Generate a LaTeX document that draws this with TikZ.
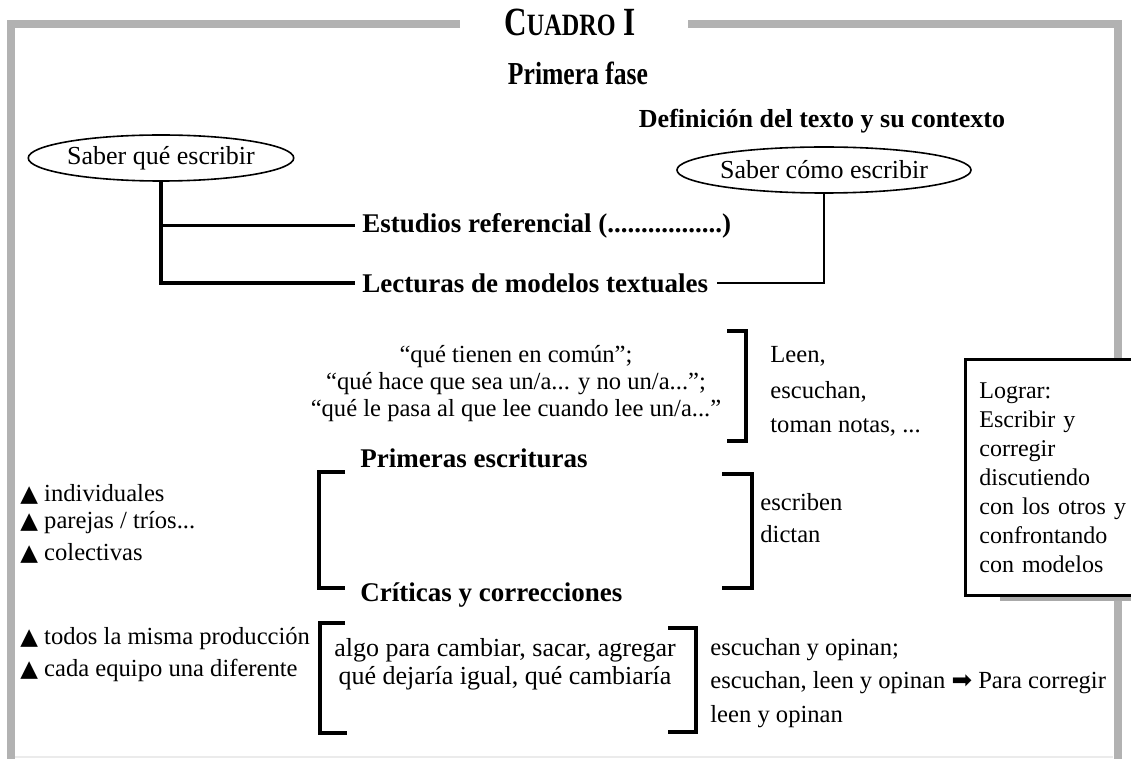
\documentclass[tikz,border=0pt]{standalone}
\usepackage{fontspec}
\setmainfont{Liberation Serif}
\newfontfamily\symfont{DejaVu Sans}
\usetikzlibrary{shapes.geometric}
\definecolor{framegray}{RGB}{178,178,178}
\definecolor{shadowgray}{RGB}{170,170,170}
\newcommand{\tri}{{\symfont\fontsize{11.5}{10}\selectfont ▲}}
\begin{document}
\begin{tikzpicture}[x=0.5pt,y=-0.5pt,
  txt/.style={inner sep=0pt, font=\fontsize{12.3}{14.5}\selectfont},
  hd/.style={inner sep=0pt, font=\fontsize{13.5}{16}\selectfont\bfseries},
  oval/.style={ellipse, draw, line width=0.8pt, minimum width=123.5pt, minimum height=23pt, inner sep=0pt, font=\fontsize{13}{15}\selectfont},
  link/.style={line width=1.8pt},
  brk/.style={line width=1.8pt},
  framing/.style={draw=framegray, line width=4pt},
  goalbox/.style={draw, fill=white, line width=1.4pt, align=left, text width=84pt, inner xsep=7pt, inner ysep=0pt, minimum height=118pt, font=\fontsize{12}{14.5}\selectfont}]
\useasboundingbox (0,0) rectangle (1131,759);
\clip (0,0) rectangle (1131,759);
% frame
\draw[framing] (460,24) -- (11,24) -- (11,762);
\draw[framing] (688,24) -- (1117.5,24) -- (1117.5,762);
\draw[draw=black!8, line width=0.8pt] (15,757) -- (1113,757);
% titles
\node[inner sep=0pt, font=\bfseries] (title) at (570,22) {\scalebox{0.78}[1]{{\fontsize{20}{22}\selectfont C}{\fontsize{15.5}{22}\selectfont UADRO}{\fontsize{20}{22}\selectfont\ I}}};
\node[inner sep=0pt] (phase) at (578,73) {\scalebox{0.8}[1]{\fontsize{16}{18}\selectfont\bfseries Primera fase}};
\node[hd, font=\fontsize{13}{16}\selectfont\bfseries] (def) at (822,121) {Definición del texto y su contexto};
% ovals
\node[oval] (e1) at (161,158) {Saber qué escribir};
\node[oval, minimum width=124pt] (e2) at (824,170) {Saber cómo escribir};
\node[hd, anchor=west] (est) at (362,226) {Estudios referencial (.................)};
\node[hd, anchor=west] (lec) at (362,283) {Lecturas de modelos textuales};
\draw[link] (e1.south) |- ([xshift=-3.5pt]lec.west);
\draw[link, line width=1.5pt] (e1.south |- est.west) -- ([xshift=-3.5pt]est.west);
\draw[link, line width=1.3pt] (e2.south) |- ([xshift=4pt]lec.east);
% quotes
\node[txt, align=center, font=\fontsize{12.3}{13.5}\selectfont] (q) at (516,384) {“qué tienen en común”;\\“qué hace que sea un/a... y no un/a...”;\\“qué le pasa al que lee cuando lee un/a...”};
\draw[brk] (727,331) -- (746,331) -- (746,441) -- (727,441);
\node[txt, anchor=west] (l1) at (770,356) {Leen,};
\node[txt, anchor=west] (l2) at (770,392) {escuchan,};
\node[txt, anchor=west] (l3) at (770,427) {toman notas, ...};
% primeras escrituras
\node[hd, anchor=west] (pe) at (360,458) {Primeras escrituras};
\draw[brk, line width=2pt] (345,472) -- (319,472) -- (319,588) -- (345,588);
\draw[brk, line width=2pt] (722,474) -- (752,474) -- (752,588) -- (722,588);
\node[txt, anchor=west] (w1) at (760,502) {escriben};
\node[txt, anchor=west] (w2) at (760,534) {dictan};
\node[txt, anchor=west] (b1) at (20,494) {\tri\ individuales};
\node[txt, anchor=west] (b2) at (20,523) {\tri\ parejas / tríos...};
\node[txt, anchor=west] (b3) at (20,553) {\tri\ colectivas};
% criticas
\node[hd, anchor=west] (cc) at (360,595) {Críticas y correcciones};
\draw[brk, line width=2pt] (345,623) -- (320,623) -- (320,733) -- (347,733);
\draw[brk, line width=2pt] (668,628) -- (696,628) -- (696,732) -- (668,732);
\node[txt, align=center, font=\fontsize{13}{14}\selectfont] (alg) at (505,664) {algo para cambiar, sacar, agregar\\qué dejaría igual, qué cambiaría};
\node[txt, anchor=west] (o1) at (710,650) {escuchan y opinan;};
\node[txt, anchor=west] (o2) at (710,683) {escuchan, leen y opinan {\symfont ➡} Para corregir};
\node[txt, anchor=west] (o3) at (710,717) {leen y opinan};
\node[txt, anchor=west] (t1) at (20,639) {\tri\ todos la misma producción};
\node[txt, anchor=west] (t2) at (20,670) {\tri\ cada equipo una diferente};
% goal box
\fill[shadowgray] (1000,592) rectangle (1160,601);
\node[goalbox, anchor=north west] (goal) at (964,358) {Lograr:\\Escribir y\\corregir\\discutiendo\\con los otros y\\confrontando\\con modelos};
\end{tikzpicture}
\end{document}
